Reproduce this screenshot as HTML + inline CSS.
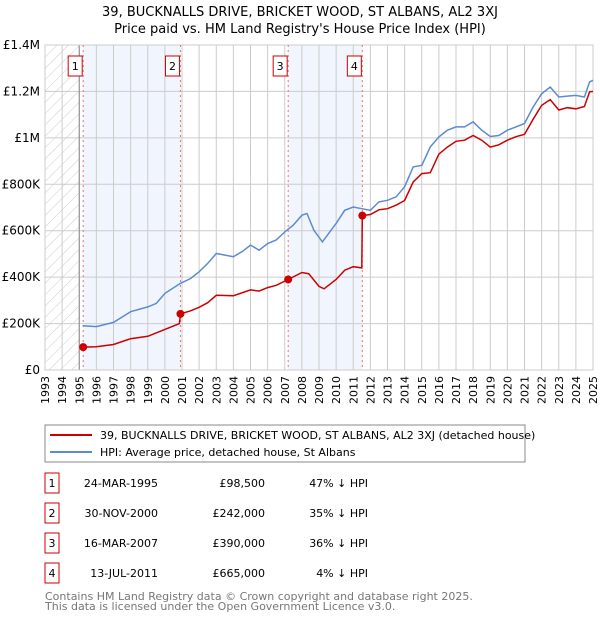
<!DOCTYPE html>
<html><head><meta charset="utf-8"><style>
body{margin:0;background:#fff;font-family:"Liberation Sans","DejaVu Sans",sans-serif;}
svg text{font-family:"DejaVu Sans","Liberation Sans",sans-serif;}
</style></head><body>
<svg id="c" width="600" height="620" xmlns="http://www.w3.org/2000/svg">
<defs><pattern id="hatch" width="8" height="8" patternUnits="userSpaceOnUse" patternTransform="rotate(45)"><line x1="0" y1="0" x2="0" y2="8" stroke="#ccc" stroke-width="1"/></pattern></defs>
<text x="300" y="16" text-anchor="middle" font-size="13" fill="#000">39, BUCKNALLS DRIVE, BRICKET WOOD, ST ALBANS, AL2 3XJ</text>
<text x="300" y="33" text-anchor="middle" font-size="13" fill="#000">Price paid vs. HM Land Registry's House Price Index (HPI)</text>
<g id="plot"></g>
<rect x="45" y="425" width="480" height="37" fill="#fff" stroke="#888"/>
<line x1="50" y1="435" x2="92" y2="435" stroke="#cc0000" stroke-width="2"/>
<text x="100" y="439" font-size="11">39, BUCKNALLS DRIVE, BRICKET WOOD, ST ALBANS, AL2 3XJ (detached house)</text>
<line x1="50" y1="452" x2="92" y2="452" stroke="#5b8bd0" stroke-width="2"/>
<text x="100" y="456" font-size="11">HPI: Average price, detached house, St Albans</text>
<g id="tbl" font-size="11"></g>
<text x="45" y="600" font-size="11" fill="#777">Contains HM Land Registry data © Crown copyright and database right 2025.</text>
<text x="45" y="610" font-size="11" fill="#777">This data is licensed under the Open Government Licence v3.0.</text>
</svg>
<script>
const hpiYears=[1995.2,1996,1997,1998,1999,1999.5,2000,2000.9,2001.5,2002,2002.5,2003,2004,2004.5,2005,2005.5,2006,2006.5,2007,2007.5,2008,2008.3,2008.7,2009.2,2009.7,2010,2010.5,2011,2011.5,2012,2012.5,2013,2013.5,2014,2014.5,2015,2015.5,2016,2016.5,2017,2017.5,2018,2018.5,2019,2019.5,2020,2020.5,2021,2021.5,2022,2022.5,2023,2023.5,2024,2024.5,2024.8,2025];
const hpiValues=[191,187,205,251,272,287,330,373,394,423,459,502,488,509,538,516,545,560,595,624,667,674,602,552,602,631,688,702,695,688,724,731,746,789,875,882,961,1004,1033,1047,1047,1069,1033,1006,1010,1033,1047,1062,1133,1190,1219,1176,1180,1183,1176,1241,1248];
const priceYears=[1995.23,1996,1997,1998,1999,2000,2000.85,2000.91,2001.5,2002,2002.5,2003,2004,2005,2005.5,2006,2006.5,2007.2,2008,2008.4,2009,2009.3,2010,2010.5,2011,2011.5,2011.53,2012,2012.5,2013,2013.5,2014,2014.5,2015,2015.5,2016,2016.5,2017,2017.5,2018,2018.5,2019,2019.5,2020,2020.5,2021,2021.5,2022,2022.5,2023,2023.5,2024,2024.5,2024.8,2025];
const priceValues=[98.5,100,110,135,145,175,200,242,255,270,290,322,320,345,340,355,365,390,420,415,360,350,390,430,445,440,665,670,690,695,710,730,810,846,850,930,960,985,990,1010,990,960,970,990,1005,1015,1080,1140,1165,1120,1130,1125,1135,1198,1200];
const saleYears=[1995.23,2000.91,2007.2,2011.53];
const saleValues=[98.5,242,390,665];
const saleLabels=["1","2","3","4"];
const saleDates=["24-MAR-1995","30-NOV-2000","16-MAR-2007","13-JUL-2011"];
const salePrices=["£98,500","£242,000","£390,000","£665,000"];
const saleDiffs=["47% ↓ HPI","35% ↓ HPI","36% ↓ HPI","4% ↓ HPI"];
const yTicks=[0,200,400,600,800,1000,1200,1400];
const yTickLabels=["£0","£200K","£400K","£600K","£800K","£1M","£1.2M","£1.4M"];
const xTicks=[1993,1994,1995,1996,1997,1998,1999,2000,2001,2002,2003,2004,2005,2006,2007,2008,2009,2010,2011,2012,2013,2014,2015,2016,2017,2018,2019,2020,2021,2022,2023,2024,2025];

const X0=45,X1=593,Y0=370,Y1=45;
const x=y=>X0+(y-1993)/32*(X1-X0);
const yv=v=>Y0-v/1400*(Y0-Y1);
const NS="http://www.w3.org/2000/svg";
const plot=document.getElementById('plot');
function mk(tag,attrs,parent){const e=document.createElementNS(NS,tag);for(const k in attrs)e.setAttribute(k,attrs[k]);(parent||plot).appendChild(e);return e;}

let e;
e=mk('rect',{x:x(1993),y:Y1,width:x(1995)-x(1993),height:Y0-Y1,fill:'url(#hatch)'});


const shades=[[0,1],[2,3]];
shades.forEach((s,i)=>{
  e=mk('rect',{x:x(saleYears[s[0]]),y:Y1,width:x(saleYears[s[1]])-x(saleYears[s[0]]),height:Y0-Y1,fill:'#eef3fc',opacity:0.8});
  
  
});
xTicks.forEach(t=>{
  e=mk('line',{x1:x(t),x2:x(t),y1:Y1,y2:Y0,stroke:'#ccc','stroke-width':1});
  
  
  e=mk('text',{x:0,y:0,transform:`translate(${x(t)+4},${Y0+6}) rotate(-90)`,'text-anchor':'end','font-size':11,fill:'#000'});
  e.textContent=t;
  
  
});
yTicks.forEach((t,i)=>{
  e=mk('line',{x1:X0,x2:X1,y1:yv(t),y2:yv(t),stroke:'#ccc','stroke-width':1});
  
  
  e=mk('text',{x:X0-5,y:yv(t)+4,'text-anchor':'end','font-size':12,fill:'#000'});
  e.textContent=yTickLabels[i];
  
  
});
e=mk('line',{x1:x(1995),x2:x(1995),y1:Y1,y2:Y0,stroke:'#888'});


e=mk('rect',{x:X0,y:Y1,width:X1-X0,height:Y0-Y1,fill:'none',stroke:'#ccc'});


saleYears.forEach((sy,i)=>{
  e=mk('line',{x1:x(sy),x2:x(sy),y1:Y1,y2:Y0,stroke:'#f07070','stroke-dasharray':'2,3'});
  
  
});
function pts(xs,vs){return xs.map((a,i)=>x(a).toFixed(1)+','+yv(vs[i]).toFixed(1)).join(' ');}
e=mk('polyline',{points:pts(hpiYears,hpiValues),fill:'none',stroke:'#5b8bd0','stroke-width':1.5});


e=mk('polyline',{points:pts(priceYears,priceValues),fill:'none',stroke:'#cc0000','stroke-width':1.5});


saleYears.forEach((sy,i)=>{
  e=mk('circle',{cx:x(sy),cy:yv(saleValues[i]),r:4,fill:'#cc0000'});
  
  
  e=mk('rect',{x:x(sy)-15,y:56,width:14,height:20,fill:'#fff',stroke:'#cc0000'});
  
  
  e=mk('text',{x:x(sy)-8,y:70,'text-anchor':'middle','font-size':11});
  e.textContent=saleLabels[i];
  
  
});
const tbl=document.getElementById('tbl');
saleLabels.forEach((l,i)=>{
  const cy=483+i*30;
  e=mk('rect',{x:45,y:cy-10,width:14,height:20,fill:'#fff',stroke:'#cc0000'},tbl);
  
  
  e=mk('text',{x:52,y:cy+4,'text-anchor':'middle'},tbl);e.textContent=l;
  
  
  e=mk('text',{x:158,y:cy+4,'text-anchor':'end'},tbl);e.textContent=saleDates[i];
  
  
  e=mk('text',{x:265,y:cy+4,'text-anchor':'end'},tbl);e.textContent=salePrices[i];
  
  
  e=mk('text',{x:368,y:cy+4,'text-anchor':'end'},tbl);e.textContent=saleDiffs[i];
  
  
});
</script>
</body></html>
